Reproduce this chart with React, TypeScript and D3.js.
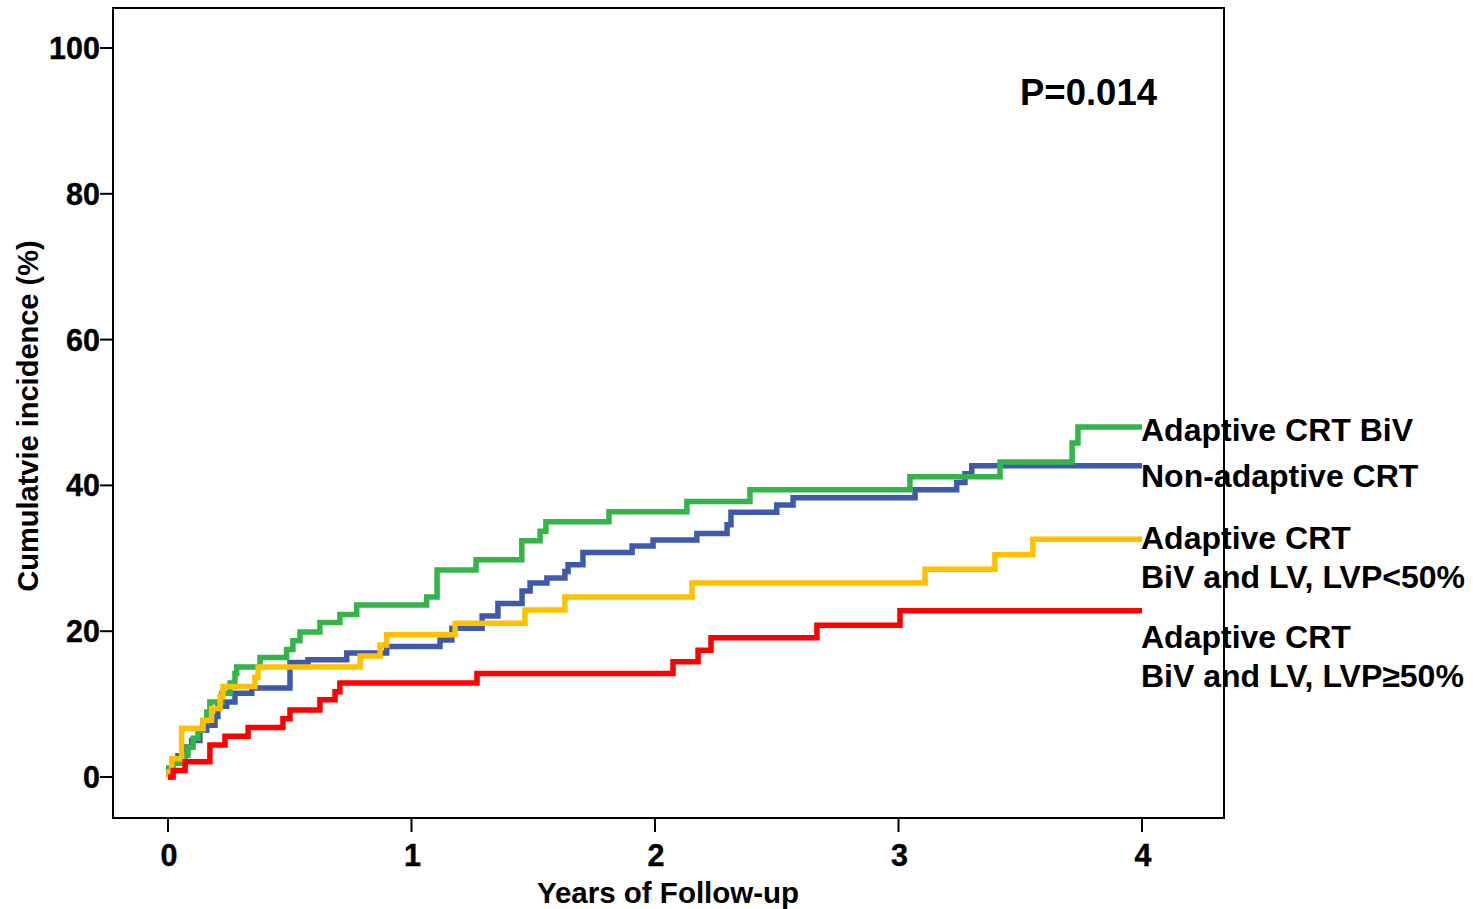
import React from "react";
import * as d3 from "d3";

// ---- Data (years of follow-up, cumulative incidence %) ----
const blueTimes = [0, 0.003, 0.016, 0.041, 0.07, 0.097, 0.131, 0.159, 0.193, 0.205, 0.241, 0.275, 0.344, 0.501, 0.575, 0.734, 0.898, 1.117, 1.166, 1.29, 1.355, 1.454, 1.487, 1.556, 1.63, 1.643, 1.704, 1.906, 1.992, 2.172, 2.296, 2.312, 2.5, 2.567, 3.068, 3.239, 3.273, 3.301, 4.0];
const blueValues = [0, 1.2, 1.9, 2.9, 4.1, 5.0, 6.4, 7.1, 8.3, 9.7, 10.3, 11.5, 12.2, 15.7, 16.1, 17.0, 17.9, 18.8, 20.4, 22.1, 23.8, 25.5, 26.6, 27.3, 28.2, 29.1, 30.8, 31.7, 32.5, 33.4, 34.6, 36.3, 37.3, 38.3, 39.4, 40.4, 41.6, 42.7, 42.7];

const greenTimes = [0, 0.005, 0.021, 0.07, 0.082, 0.103, 0.123, 0.144, 0.159, 0.172, 0.221, 0.255, 0.275, 0.282, 0.378, 0.487, 0.513, 0.542, 0.624, 0.706, 0.775, 1.062, 1.105, 1.265, 1.453, 1.528, 1.552, 1.811, 2.131, 2.39, 3.047, 3.417, 3.713, 3.737, 4.0];
const greenValues = [0, 1.2, 1.9, 3.0, 4.1, 5.3, 6.4, 7.6, 8.9, 10.3, 11.5, 12.9, 14.2, 15.1, 16.4, 17.5, 18.7, 19.9, 21.2, 22.3, 23.6, 24.7, 28.4, 29.8, 32.4, 33.7, 35.0, 36.4, 37.8, 39.4, 41.2, 43.2, 45.8, 48.0, 48.0];

const yellowTimes = [0, 0.004, 0.015, 0.056, 0.144, 0.179, 0.214, 0.226, 0.357, 0.37, 0.789, 0.871, 0.898, 1.179, 1.466, 1.63, 2.152, 3.109, 3.396, 3.552, 4.0];
const yellowValues = [0, 0.7, 2.5, 6.7, 7.8, 9.4, 11.0, 12.4, 13.7, 15.1, 16.6, 18.1, 19.5, 21.1, 22.9, 24.7, 26.6, 28.5, 30.5, 32.6, 32.6];

const redTimes = [0, 0.021, 0.07, 0.172, 0.234, 0.329, 0.472, 0.501, 0.624, 0.686, 0.706, 1.269, 2.074, 2.177, 2.23, 2.665, 3.006, 4.0];
const redValues = [0, 0.9, 2.1, 4.4, 5.6, 6.8, 8.0, 9.2, 10.6, 11.7, 12.9, 14.2, 15.8, 17.4, 19.1, 20.8, 22.8, 22.8];

const xTicks = [0, 1, 2, 3, 4];
const yTicks = [0, 20, 40, 60, 80, 100];

const seriesOrder = [
  { name: "Non-adaptive CRT", times: blueTimes, values: blueValues, color: "#3f5aaa" },
  { name: "Adaptive CRT BiV", times: greenTimes, values: greenValues, color: "#33b54a" },
  { name: "Adaptive CRT BiV and LV, LVP<50%", times: yellowTimes, values: yellowValues, color: "#ffc000" },
  { name: "Adaptive CRT BiV and LV, LVP≥50%", times: redTimes, values: redValues, color: "#ff0000" },
];

const legendLines = [
  { text: "Adaptive CRT BiV", y: 441 },
  { text: "Non-adaptive CRT", y: 487 },
  { text: "Adaptive CRT", y: 549 },
  { text: "BiV and LV, LVP<50%", y: 588 },
  { text: "Adaptive CRT", y: 648 },
  { text: "BiV and LV, LVP≥50%", y: 687 },
];

const W = 1473;
const H = 909;
const frame = { left: 113, top: 8, right: 1224, bottom: 818 };
const FONT = "Arial, 'Liberation Sans', Helvetica, sans-serif";

export default function App() {
  const x = d3.scaleLinear().domain([0, 4]).range([168, 1142]);
  const y = d3.scaleLinear().domain([0, 100]).range([777, 48]);

  const line = d3
    .line<[number, number]>()
    .x((d) => x(d[0]))
    .y((d) => y(d[1]))
    .curve(d3.curveStepAfter);

  return (
    <svg
      width={W}
      height={H}
      style={{ position: "absolute", left: 0, top: 0, background: "#fff" }}
      fontFamily={FONT}
    >
      <rect x={0} y={0} width={W} height={H} fill="#fff" />
      {/* curves */}
      {seriesOrder.map((s) => (
        <path
          key={s.name}
          d={line(s.times.map((t, i) => [t, s.values[i]] as [number, number])) || ""}
          fill="none"
          stroke={s.color}
          strokeWidth={5.5}
          strokeLinejoin="miter"
          strokeLinecap="butt"
        />
      ))}
      {/* frame */}
      <rect
        x={frame.left}
        y={frame.top}
        width={frame.right - frame.left}
        height={frame.bottom - frame.top}
        fill="none"
        stroke="#000"
        strokeWidth={2}
      />
      {/* y axis ticks */}
      {yTicks.map((v) => (
        <g key={"y" + v}>
          <line x1={100} x2={frame.left} y1={y(v)} y2={y(v)} stroke="#000" strokeWidth={2} />
          <text
            x={100}
            y={y(v)}
            dy="0.36em"
            textAnchor="end"
            fontSize={30.5}
            fontWeight="bold"
            stroke="#000"
            strokeWidth={0.4}
          >
            {v}
          </text>
        </g>
      ))}
      {/* x axis ticks */}
      {xTicks.map((v) => (
        <g key={"x" + v}>
          <line x1={x(v)} x2={x(v)} y1={frame.bottom} y2={832} stroke="#000" strokeWidth={2} />
          <text
            x={x(v) + 1}
            y={866}
            textAnchor="middle"
            fontSize={30.5}
            fontWeight="bold"
            stroke="#000"
            strokeWidth={0.4}
          >
            {v}
          </text>
        </g>
      ))}
      {/* axis titles */}
      <text x={668} y={903} textAnchor="middle" fontSize={29.5} fontWeight="bold">
        Years of Follow-up
      </text>
      <text
        transform={`translate(38,416) rotate(-90)`}
        textAnchor="middle"
        fontSize={29}
        fontWeight="bold"
      >
        Cumulatvie incidence (%)
      </text>
      {/* P value */}
      <text x={1020} y={105} fontSize={36.5} fontWeight="bold">
        P=0.014
      </text>
      {/* legend labels */}
      {legendLines.map((l, i) => (
        <text key={i} x={1141} y={l.y} fontSize={32} fontWeight="bold">
          {l.text}
        </text>
      ))}
    </svg>
  );
}
